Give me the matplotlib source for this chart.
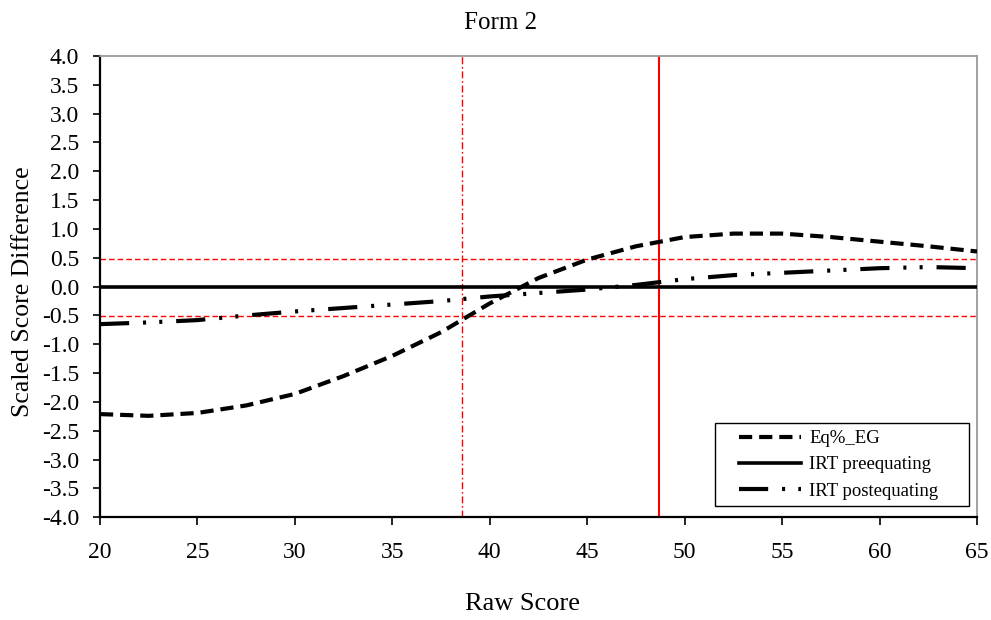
import matplotlib
matplotlib.use("Agg")
import matplotlib.pyplot as plt
from matplotlib.patches import Rectangle
from matplotlib.ticker import MultipleLocator, FormatStrFormatter

plt.rcParams['font.family'] = ['Liberation Serif', 'DejaVu Serif']
plt.rcParams['axes.unicode_minus'] = False
plt.rcParams['lines.scale_dashes'] = False

# raw score points and scaled score differences
raw = [20, 22.5, 25, 27.5, 30, 32.5, 35, 37.5, 40, 42.5, 45, 47.5, 50,
       52.5, 55, 57.5, 60, 62.5, 65]
eq_eg = [-2.21, -2.24, -2.19, -2.06, -1.86, -1.55, -1.20, -0.79, -0.29,
         0.15, 0.47, 0.70, 0.86, 0.92, 0.92, 0.86, 0.78, 0.70, 0.61]
irt_pre = [0.0] * len(raw)
irt_post = [-0.65, -0.62, -0.58, -0.50, -0.43, -0.37, -0.31, -0.25, -0.17,
            -0.11, -0.05, 0.03, 0.13, 0.20, 0.24, 0.28, 0.32, 0.34, 0.32]

# cut scores and tolerance band
cut_lo = 38.55
cut_hi = 48.67
band = [0.48, -0.51]

fig = plt.figure(figsize=(9.91, 6.20), dpi=100)
ax = fig.add_axes([0.1009, 0.1656, 0.8850, 0.7441])

for b in band:
    ax.axhline(b, color='red', lw=1.0, dashes=(4, 2.2), zorder=1)
ax.axvline(cut_lo, color='red', lw=1.0, dashes=(5, 2, 1.2, 2), zorder=1)
ax.axvline(cut_hi, color='red', lw=1.5, zorder=1)

ax.plot(raw, eq_eg, color='black', lw=3.0, dashes=(9.5, 5),
        label='Eq%_EG', zorder=3)
ax.plot(raw, irt_pre, color='black', lw=2.6, label='IRT preequating', zorder=3)
ax.plot(raw, irt_post, color='black', lw=3.0,
        dashes=(21, 10, 2.2, 9.5, 2.2, 10), label='IRT postequating', zorder=3)

ax.set_xlim(20, 65)
ax.set_ylim(-4, 4)
ax.xaxis.set_major_locator(MultipleLocator(5))
ax.yaxis.set_major_locator(MultipleLocator(0.5))
ax.yaxis.set_major_formatter(FormatStrFormatter('%.1f'))
ax.tick_params(axis='both', direction='out', width=1.2,
               labelsize=17, colors='black')
ax.tick_params(axis='y', length=5, pad=10)
ax.tick_params(axis='x', length=5.8, pad=12)

for side in ['left', 'bottom']:
    ax.spines[side].set_linewidth(1.6)
    ax.spines[side].set_color('black')
for side in ['top', 'right']:
    ax.spines[side].set_linewidth(1.3)
    ax.spines[side].set_color('#9a9a9a')

# legend box drawn separately so it can be wider than its contents
ax.add_patch(Rectangle((0.7013, 0.0245), 0.2896, 0.1799, transform=ax.transAxes,
                       facecolor='white', edgecolor='black', lw=1.0, zorder=4))
leg = ax.legend(loc='upper left', bbox_to_anchor=(0.7286, 0.189),
                fontsize=13.5, frameon=False, handlelength=3.3, borderpad=0,
                labelspacing=0.48, handletextpad=0.45, borderaxespad=0)
leg.set_zorder(5)

fig.text(0.505, 0.963, 'Form 2', ha='center', va='center', fontsize=18)
fig.text(0.527, 0.025, 'Raw Score', ha='center', va='center', fontsize=19)
fig.text(0.023, 0.53, 'Scaled Score Difference', ha='center', va='center',
         rotation=90, fontsize=18.5)

fig.savefig('out.png', dpi=100)
